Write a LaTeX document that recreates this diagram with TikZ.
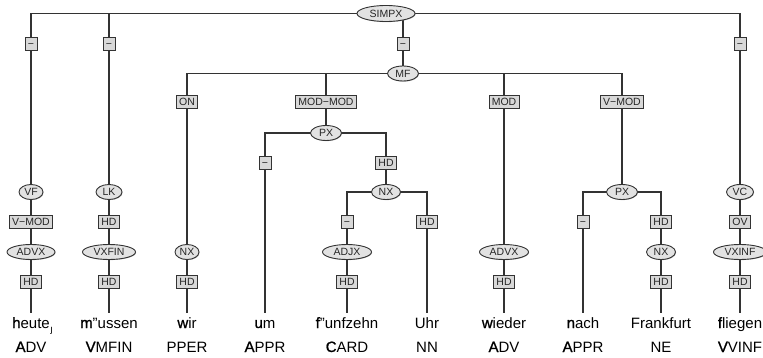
\documentclass[tikz,border=0pt]{standalone}
\usepackage{fontspec}
\setmainfont{Liberation Sans}
\newfontfamily\markfont{DejaVu Sans}
\newfontface\initfont{Liberation Sans}[FakeBold=1.2]
\newcommand\ini[1]{{\initfont #1}}
\usetikzlibrary{shapes.geometric,backgrounds,shadows}
\definecolor{edgegray}{HTML}{333333}
\definecolor{boxfill}{HTML}{D8D8D8}
\definecolor{ellfill}{HTML}{E2E2E2}
\begin{document}
\begin{tikzpicture}[x=1pt,y=-1pt,
  edge/.style={draw=edgegray, line width=1.1pt},
  fn/.style={rectangle, draw=edgegray, fill=boxfill, line width=0.9pt,
    font=\fontsize{10.5}{10.5}\selectfont, text=black!85,
    inner xsep=2.8pt, inner ysep=0pt, text height=7.6pt, text depth=0pt,
    minimum height=13pt, minimum width=12pt,
    drop shadow={shadow xshift=0.6pt, shadow yshift=-0.6pt, fill=black!55}},
  cat/.style={ellipse, draw=edgegray, fill=ellfill, line width=0.9pt,
    font=\fontsize{10.5}{10.5}\selectfont, text=black!85,
    inner sep=0pt, text height=7.6pt, text depth=0pt,
    minimum width=#1, minimum height=15pt,
    drop shadow={shadow xshift=0.6pt, shadow yshift=-0.6pt, fill=black!55}},
  word/.style={anchor=base, font=\fontsize{15}{15}\selectfont,
    inner xsep=0pt, inner ysep=4pt, text height=11pt, text depth=3pt},
  postag/.style={anchor=base, font=\fontsize{15}{15}\selectfont, inner sep=0pt}
]
\useasboundingbox (0,0) rectangle (763,358);

% clause node and topological fields
\node[cat=58pt, minimum height=16pt] (simpx) at (386,13.5) {SIMPX};
\node[fn] (f1) at (31,43.5) {−};
\node[fn] (f2) at (109,43.5) {−};
\node[fn] (f3) at (403,43.5) {−};
\node[fn] (f4) at (740,43.5) {−};

% Vorfeld
\node[cat=24pt] (vf) at (31,192) {VF};
\node[fn] (vfmod) at (31,222) {V−MOD};
\node[cat=48pt] (advx1) at (31,252) {ADVX};
\node[fn] (hd1) at (31,282) {HD};

% left sentence bracket
\node[cat=26pt] (lk) at (109,192) {LK};
\node[fn] (lkhd) at (109,222) {HD};
\node[cat=53pt] (vxfin) at (109,252) {VXFIN};
\node[fn] (hd2) at (109,282) {HD};

% Mittelfeld
\node[cat=31pt] (mf) at (403,73.5) {MF};
\node[fn] (on) at (187,101.5) {ON};
\node[fn] (modmod) at (326,101.5) {MOD−MOD};
\node[fn] (mod) at (504,101.5) {MOD};
\node[fn] (vmod) at (622,101.5) {V−MOD};

\node[cat=24pt] (nx1) at (187,252) {NX};
\node[fn] (hd3) at (187,282) {HD};

\node[cat=31pt] (px1) at (326,133) {PX};
\node[fn] (px1a) at (265,163) {−};
\node[fn] (px1b) at (386,163) {HD};
\node[cat=29pt] (nx2) at (386,192) {NX};
\node[fn] (nx2a) at (347,222) {−};
\node[fn] (nx2b) at (427,222) {HD};
\node[cat=49pt] (adjx) at (347,252) {ADJX};
\node[fn] (hd5) at (347,282) {HD};

\node[cat=49pt] (advx2) at (504,252) {ADVX};
\node[fn] (hd7) at (504,282) {HD};

\node[cat=31pt] (px2) at (622,192) {PX};
\node[fn] (px2a) at (583,222) {−};
\node[fn] (px2b) at (661,222) {HD};
\node[cat=29pt] (nx3) at (661,252) {NX};
\node[fn] (hd9) at (661,282) {HD};

% verb complex
\node[cat=27pt] (vc) at (740,192) {VC};
\node[fn] (ov) at (740,222) {OV};
\node[cat=53pt] (vxinf) at (740,252) {VXINF};
\node[fn] (hd10) at (740,282) {HD};

% tokens
\node[word] (w1) at (31,328) {\ini{h}eute\rlap{\kern0.5pt\markfont\fontsize{9.5}{9.5}\selectfont\raisebox{-4pt}{ȷ}}};
\node[word] (w2) at (109,328) {\ini{m}"ussen};
\node[word] (w3) at (187,328) {\ini{w}ir};
\node[word] (w4) at (265,328) {\ini{u}m};
\node[word] (w5) at (347,328) {\ini{f}"unfzehn};
\node[word] (w6) at (427,328) {Uhr};
\node[word] (w7) at (504,328) {\ini{w}ieder};
\node[word] (w8) at (583,328) {\ini{n}ach};
\node[word] (w9) at (661,328) {Frankfurt};
\node[word] (w10) at (740,328) {\ini{f}liegen};

% part-of-speech tags
\node[postag] (p1) at (31,352) {\ini{A}DV};
\node[postag] (p2) at (109,352) {\ini{V}MFIN};
\node[postag] (p3) at (187,352) {PPER};
\node[postag] (p4) at (265,352) {\ini{A}PPR};
\node[postag] (p5) at (347,352) {\ini{C}ARD};
\node[postag] (p6) at (427,352) {NN};
\node[postag] (p7) at (504,352) {\ini{A}DV};
\node[postag] (p8) at (583,352) {\ini{A}PPR};
\node[postag] (p9) at (661,352) {NE};
\node[postag] (p10) at (740,352) {\ini{V}VINF};

% tree edges, behind the nodes
\begin{scope}[on background layer]
\fill[white] (0,0) rectangle (763,358);
\draw[edge] (simpx.center) -| (f1.center) -- (vf.center) -- (vfmod.center)
  -- (advx1.center) -- (hd1.center) -- (w1.north);
\draw[edge] (simpx.center) -| (f2.center) -- (lk.center) -- (lkhd.center)
  -- (vxfin.center) -- (hd2.center) -- (w2.north);
\draw[edge] (simpx.center) -| (f3.center) -- (mf.center);
\draw[edge] (simpx.center) -| (f4.center) -- (vc.center) -- (ov.center)
  -- (vxinf.center) -- (hd10.center) -- (w10.north);
\draw[edge] (mf.center) -| (on.center) -- (nx1.center) -- (hd3.center) -- (w3.north);
\draw[edge] (mf.center) -| (modmod.center) -- (px1.center);
\draw[edge] (px1.center) -| (px1a.center) -- (w4.north);
\draw[edge] (px1.center) -| (px1b.center) -- (nx2.center);
\draw[edge] (nx2.center) -| (nx2a.center) -- (adjx.center) -- (hd5.center) -- (w5.north);
\draw[edge] (nx2.center) -| (nx2b.center) -- (w6.north);
\draw[edge] (mf.center) -| (mod.center) -- (advx2.center) -- (hd7.center) -- (w7.north);
\draw[edge] (mf.center) -| (vmod.center) -- (px2.center);
\draw[edge] (px2.center) -| (px2a.center) -- (w8.north);
\draw[edge] (px2.center) -| (px2b.center) -- (nx3.center) -- (hd9.center) -- (w9.north);
\end{scope}
\end{tikzpicture}
\end{document}
